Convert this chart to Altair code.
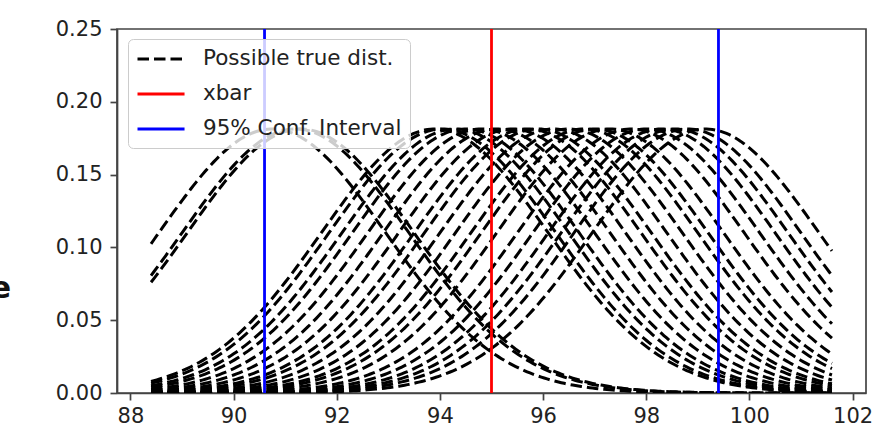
import numpy as np
import pandas as pd
import altair as alt

# ---- data ----
means = [90.75, 91.2, 91.3, 93.9, 94.05, 94.3, 94.5, 94.8, 95.1, 95.4, 95.7,
         95.9, 96.2, 96.5, 96.8, 97.0, 97.3, 97.7, 98.0, 98.3, 98.55, 98.8, 99.15]
sigma = 2.2
x_range = [88.4, 101.6]
xbar = [95.0]
ci_bounds = [90.6, 99.4]
labels = ["Possible true dist.", "xbar", "95% Conf. Interval"]
colors = ["black", "red", "blue"]
x_ticks = [88, 90, 92, 94, 96, 98, 100, 102]
y_ticks = [0.0, 0.05, 0.10, 0.15, 0.20, 0.25]

# normal pdf curves for each possible true mean
xs = np.linspace(x_range[0], x_range[1], 240)
rows = []
for i, m in enumerate(means):
    ys = np.exp(-(xs - m) ** 2 / (2 * sigma ** 2)) / (sigma * np.sqrt(2 * np.pi))
    for xv, yv in zip(xs, ys):
        rows.append({"x": float(xv), "y": float(yv), "id": i, "series": labels[0]})
curves = pd.DataFrame(rows)
rules = pd.DataFrame({"x": xbar + ci_bounds,
                      "series": [labels[1], labels[2], labels[2]]})

FONT = "DejaVu Sans"
xscale = alt.Scale(domain=[87.74, 102.26], nice=False, zero=False)
yscale = alt.Scale(domain=[0, 0.25], nice=False)

legend = alt.Legend(title=None, orient="none", legendX=11, legendY=10,
                    fillColor="rgba(255,255,255,0.8)", strokeColor="#cccccc",
                    cornerRadius=5, padding=8, symbolType="M-1,0H3.48",
                    symbolSize=441, symbolStrokeWidth=3, labelFontSize=21.5,
                    labelFont=FONT, labelColor="#222222", labelOffset=43,
                    labelLimit=400, rowPadding=12)
color = alt.Color("series:N", scale=alt.Scale(domain=labels, range=colors),
                  legend=legend)
dash = alt.StrokeDash("series:N",
                      scale=alt.Scale(domain=labels, range=[[11.5, 5], [1, 0], [1, 0]]),
                      legend=legend)

xaxis = alt.Axis(values=x_ticks, format="d", title=None, grid=False, labelPadding=5)
yaxis = alt.Axis(values=y_ticks, format=".2f", title=None, grid=False, labelPadding=8)

lines = alt.Chart(curves).mark_line(strokeWidth=3, clip=True).encode(
    x=alt.X("x:Q", scale=xscale, axis=xaxis),
    y=alt.Y("y:Q", scale=yscale, axis=yaxis),
    detail="id:N",
    color=color,
    strokeDash=dash,
)

vlines = alt.Chart(rules).mark_rule(strokeWidth=2.8).encode(
    x=alt.X("x:Q", scale=xscale, axis=xaxis),
    color=color,
    strokeDash=dash,
)

edge_text = alt.Chart(pd.DataFrame({"t": ["e"]})).mark_text(
    align="right", baseline="middle", fontSize=30, font=FONT,
    fontWeight="bold", color="#111111"
).encode(x=alt.value(-106), y=alt.value(260), text="t:N")

chart = alt.layer(lines, vlines, edge_text).properties(
    width=749, height=364,
    padding={"left": 117, "top": 29, "right": 16, "bottom": 34},
    autosize=alt.AutoSizeParams(type="none"),
    background="white",
).configure_view(
    stroke="#444444", strokeWidth=1.7
).configure_axis(
    grid=False, labelFont=FONT, labelFontSize=21, labelColor="#222222",
    domainColor="#444444", domainWidth=1.7, tickColor="#444444",
    tickWidth=1.7, tickSize=7
)

chart.save("out.html", embed_options={"renderer": "svg", "actions": False})
